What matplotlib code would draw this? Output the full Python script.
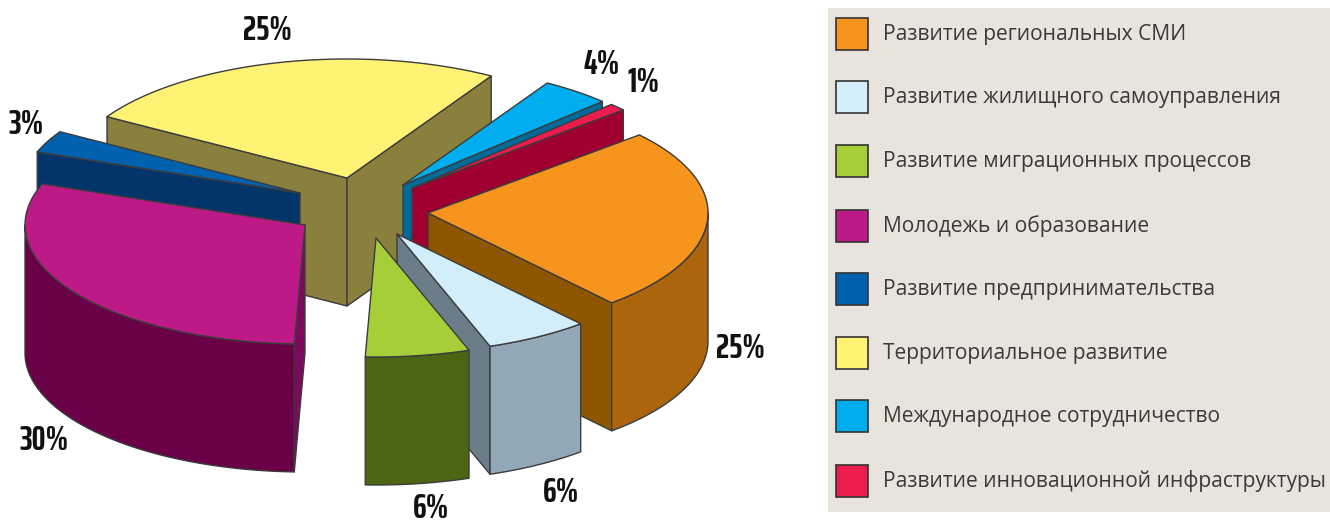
import numpy as np
import matplotlib
matplotlib.use("Agg")
from matplotlib import pyplot as plt
from matplotlib.patches import Polygon, Rectangle

# Data
labels = [
    "Развитие региональных СМИ",
    "Развитие жилищного самоуправления",
    "Развитие миграционных процессов",
    "Молодежь и образование",
    "Развитие предпринимательства",
    "Территориальное развитие",
    "Международное сотрудничество",
    "Развитие инновационной инфраструктуры",
]
values = [25, 6, 6, 30, 3, 25, 4, 1]

# Slice colours: top, outer wall, cut wall
top_colors = ["#F7941D", "#D2EEFA", "#A6CE39", "#BE1A87", "#0061AF", "#FFF275", "#00AEEF", "#ED1C4E"]
outer_colors = ["#AC650D", "#92A8B6", "#4C6512", "#6A0048", "#03356B", "#BDB25A", "#006B9A", "#A00030"]
cut_colors = ["#8F5600", "#6B7D88", "#4C6512", "#7C0A5C", "#03356B", "#88803C", "#006B9A", "#A00030"]

# Layout, in pixels of the 1330x524 picture
apex_x = [428, 397, 376, 305, 300, 347, 403, 412]
apex_y = [213, 234, 238, 225, 193, 178, 185, 188]
rx, ry, depth = 280, 119, 128
start_angle = 41
draw_order = [5, 6, 7, 4, 0, 1, 2, 3]
edge = "#3C3C3C"

label_x = [267, 602, 643, 26, 740, 44, 561, 431]
label_y = [31, 64, 82, 125, 348, 440, 493, 509]
label_slice = [5, 6, 7, 4, 0, 3, 1, 2]
legend_y = [34, 97, 161, 226, 289, 353, 416, 481]

plt.rcParams["font.family"] = ["Open Sans", "DejaVu Sans"]

fig = plt.figure(figsize=(13.3, 5.24), dpi=100)
ax = fig.add_axes([0, 0, 1, 1])
ax.set_xlim(0, 1330)
ax.set_ylim(524, 0)
ax.axis("off")


def arc_points(cx, cy, a0, a1, dy=0):
    t = np.radians(np.linspace(a0, a1, 80))
    return np.column_stack([cx + rx * np.cos(t), cy - ry * np.sin(t) + dy])


def add_poly(points, color, z):
    ax.add_patch(Polygon(points, closed=True, facecolor=color, edgecolor=edge,
                         linewidth=1, joinstyle="round", zorder=z))


# Angles run clockwise from the start angle
shares = np.array(values) / sum(values) * 360
ends = start_angle - np.cumsum(shares)
starts = ends + shares

for z, i in enumerate(draw_order):
    cx, cy = apex_x[i], apex_y[i]
    z = z * 3 + 1

    # Cut walls that face the viewer
    for angle, visible in ((starts[i], np.cos(np.radians(starts[i])) < 0),
                           (ends[i], np.cos(np.radians(ends[i])) > 0)):
        if visible:
            tip = arc_points(cx, cy, angle, angle)[0]
            add_poly([(cx, cy), tip, (tip[0], tip[1] + depth), (cx, cy + depth)], cut_colors[i], z)

    # Outer wall, only the front half of the ellipse shows
    lo = ends[i]
    hi = min(starts[i], 0)
    lo = max(lo, -180)
    if hi > lo:
        top = arc_points(cx, cy, hi, lo)
        bottom = arc_points(cx, cy, lo, hi, dy=depth)
        add_poly(np.vstack([top, bottom]), outer_colors[i], z + 1)

    # Top face
    add_poly(np.vstack([[(cx, cy)], arc_points(cx, cy, starts[i], ends[i])]), top_colors[i], z + 2)

# Percent labels
for x, y, i in zip(label_x, label_y, label_slice):
    ax.text(x, y, f"{values[i]}%", ha="center", va="center", fontsize=25, fontweight="bold",
            family=["Saira ExtraCondensed", "Barlow Condensed", "Liberation Sans", "DejaVu Sans"],
            color="#111111", zorder=40)

# Legend panel
ax.add_patch(Rectangle((828, 8), 502, 504, facecolor="#E9E3DD", edgecolor="none", zorder=0))
for y, name, color in zip(legend_y, labels, top_colors):
    ax.add_patch(Rectangle((836, y - 16), 32, 32, facecolor=color, edgecolor="#333333", linewidth=1.2, zorder=2))
    ax.text(883, y + 0.5, name, ha="left", va="center", fontsize=15.1, color="#3A3A3A", zorder=2)

fig.savefig("out.png", dpi=100)
